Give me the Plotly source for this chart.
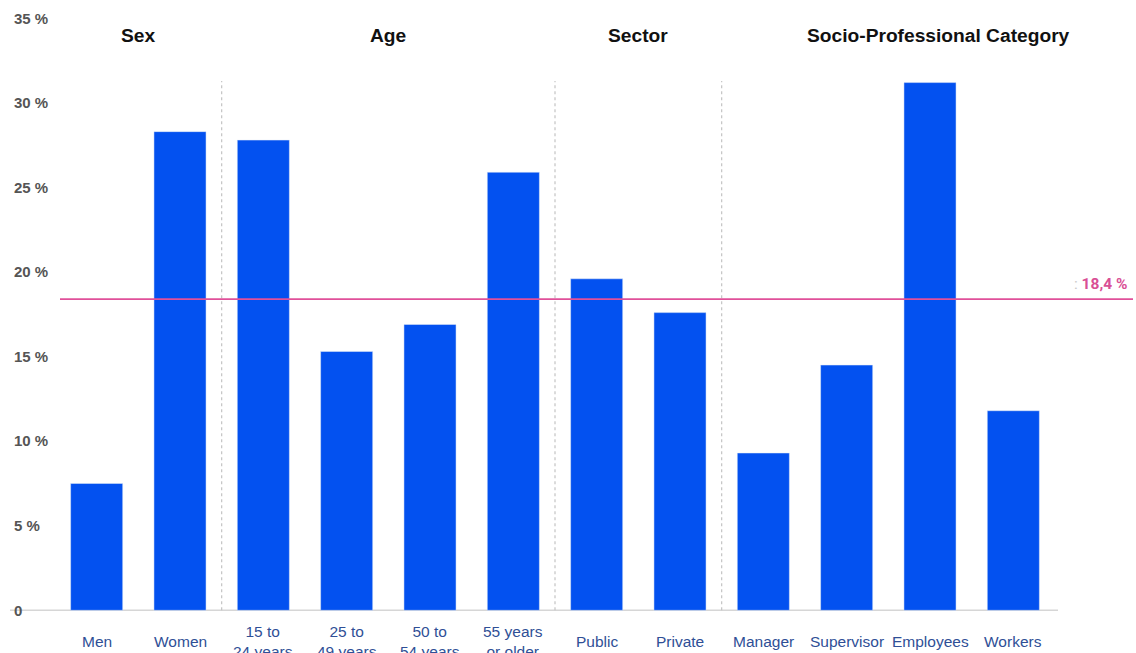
import plotly.graph_objects as go

# ---- data ----
categories = ["Men", "Women", "15 to 24 years", "25 to 49 years", "50 to 54 years",
              "55 years or older", "Public", "Private", "Manager", "Supervisor",
              "Employees", "Workers"]
tick_labels = ["Men", "Women", "15 to<br>24 years", "25 to<br>49 years", "50 to<br>54 years",
               "55 years<br>or older", "Public", "Private", "Manager", "Supervisor",
               "Employees", "Workers"]
values = [7.5, 28.3, 27.8, 15.3, 16.9, 25.9, 19.6, 17.6, 9.3, 14.5, 31.2, 11.8]
average = 18.4
average_label = "18,4 %"
groups = ["Sex", "Age", "Sector", "Socio-Professional Category"]
group_centers = [0.5, 3.5, 6.5, 10.1]
separators = [1.5, 5.5, 7.5]
y_ticks = [0, 5, 10, 15, 20, 25, 30, 35]
y_tick_text = ["0", "5 %", "10 %", "15 %", "20 %", "25 %", "30 %", "35 %"]

W, H = 1136, 653
PX_PER_UNIT = 16.9
Y_LO, Y_HI = -0.75, 35.55
ZERO_PX = 610
MT = round(ZERO_PX - Y_HI * PX_PER_UNIT)
MB = round(H - (ZERO_PX - Y_LO * PX_PER_UNIT))
ML, MR = 10, 78
plot_w = W - ML - MR
plot_h = H - MT - MB
dom0 = 45 / plot_w
dom1 = 1045 / plot_w
label_y = (H - MB - 641) / plot_h

fig = go.Figure()
fig.add_trace(go.Bar(
    x=categories, y=values, marker_color="#0351f0", width=0.625,
    hoverinfo="skip", showlegend=False,
))

shapes = []
for s in separators:
    shapes.append(dict(type="line", xref="x", yref="y", x0=s, x1=s, y0=0, y1=31.3,
                       line=dict(color="#c4c4c4", width=1.2, dash="dot"), layer="below"))
# baseline
shapes.append(dict(type="line", xref="paper", yref="y", x0=0, x1=1, y0=0, y1=0,
                   line=dict(color="#d6d6d6", width=1.5), layer="below"))
# average line
shapes.append(dict(type="line", xref="paper", yref="y", x0=50 / plot_w, x1=(1133 - ML) / plot_w,
                   y0=average, y1=average, line=dict(color="#e0509a", width=1.6)))

annotations = []
for g, c in zip(groups, group_centers):
    annotations.append(dict(text=g, x=c, y=34, xref="x", yref="y", showarrow=False,
                            font=dict(family="Liberation Sans, Arial", size=19.2, color="#111111",
                                      weight="bold"),
                            xanchor="center", yanchor="middle"))
for cat, lab in zip(categories, tick_labels):
    annotations.append(dict(text=lab, x=cat, y=label_y, xref="x",
                            yref="paper", showarrow=False, xanchor="center", yanchor="middle",
                            font=dict(family="Liberation Sans, Arial", size=15.5, color="#2f4f96")))
annotations.append(dict(
    text="<span style='color:#c8c8c8;font-weight:normal'>: </span>" + average_label,
    x=(1129 - ML) / plot_w, y=average, xref="paper", yref="y", showarrow=False,
    xanchor="right", yanchor="bottom", yshift=4,
    font=dict(family="Roboto, Liberation Sans", size=15.5, color="#d94f95", weight="bold"),
))

fig.update_layout(
    width=W, height=H,
    margin=dict(l=ML, r=MR, t=MT, b=MB),
    plot_bgcolor="white", paper_bgcolor="white",
    xaxis=dict(domain=[dom0, dom1], range=[-0.5, 11.5], showticklabels=False,
               showgrid=False, zeroline=False, showline=False, ticks="",
               categoryorder="array", categoryarray=categories),
    yaxis=dict(range=[Y_LO, Y_HI], anchor="free", position=0, side="left",
               tickvals=y_ticks, ticktext=y_tick_text, ticklabelposition="inside",
               showgrid=False, zeroline=False, showline=False, ticks="",
               tickfont=dict(family="Liberation Sans, Arial", size=15, color="#555555",
                             weight="bold")),
    shapes=shapes,
    annotations=annotations,
    bargap=0.375,
)

fig.write_html("out.html")
